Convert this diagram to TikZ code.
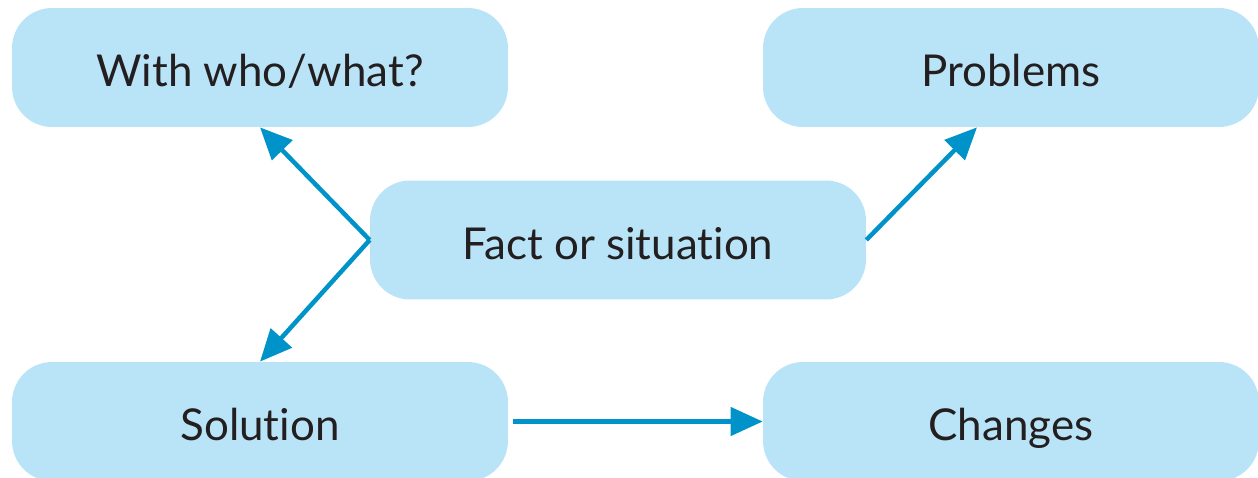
\documentclass[tikz,border=0pt]{standalone}
\usepackage{fontspec}
\setmainfont{Lato}[Ligatures=NoCommon]
\usetikzlibrary{arrows.meta,calc}
\definecolor{bubblefill}{HTML}{B9E4F8}
\definecolor{linkblue}{HTML}{0093C9}
\definecolor{inkgray}{HTML}{231F20}
\tikzset{
	bubble/.style={fill=bubblefill, rounded corners=0.8cm, minimum width=9.92cm, minimum height=2.38cm, text=inkgray, text height=23pt, text depth=1pt, font=\fontsize{25}{29}\selectfont},
	link/.style={draw=linkblue, line width=0.09cm, -{Triangle[length=0.64cm,width=0.56cm]}}
}

\begin{document}
\begin{tikzpicture}[x=0.02cm, y=-0.02cm]
			%%%%% START %%%%%
			
			\useasboundingbox (0, 0) rectangle (1258, 477);
			
			\node[bubble] (with) at (260, 67.5) {With who/what?};
			\node[bubble] (problems) at (1011, 67.5) {Problems};
			\node[bubble] (fact) at (618, 240) {Fact or situation};
			\node[bubble] (solution) at (260, 421.5) {Solution};
			\node[bubble] (changes) at (1011, 421.5) {Changes};
			
			\draw[link] (fact.west) -- (with.south);
			\draw[link] (fact.west) -- (solution.north);
			\draw[link] (fact.east) -- ($(problems.south)+(-34, 0)$);
			\draw[link, shorten <=0.1cm] (solution.east) -- (changes.west);
			
			%%%%% END %%%%%
\end{tikzpicture}
\end{document}
